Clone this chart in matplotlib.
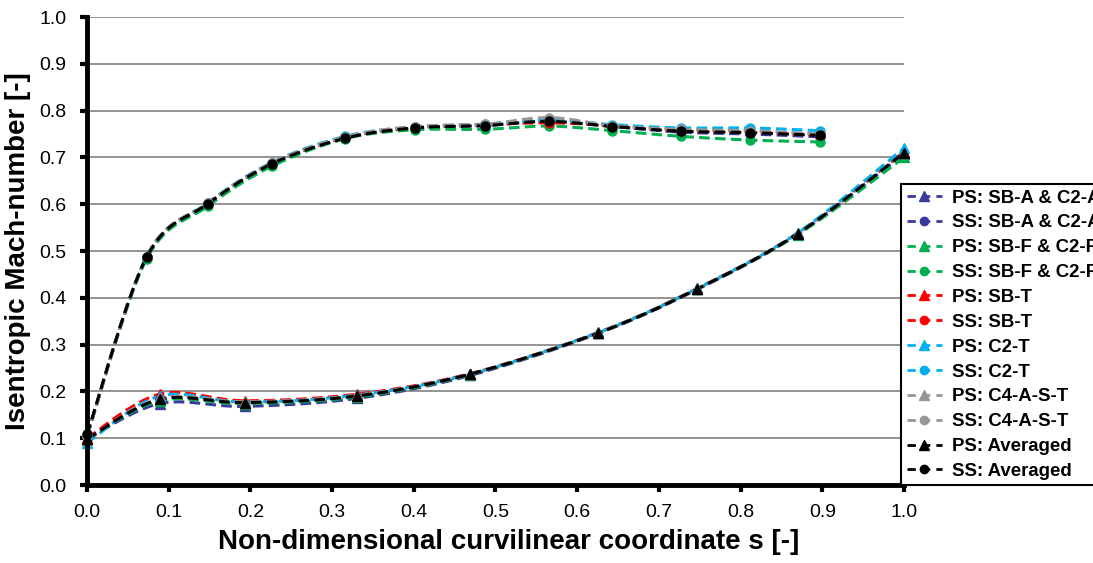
import numpy as np
import matplotlib
matplotlib.use("Agg")
import matplotlib.pyplot as plt
from matplotlib.lines import Line2D

plt.rcParams["font.family"] = ["Liberation Sans", "DejaVu Sans"]

# Suction side (SS) stations and Mach numbers
s_ss = [0.0, 0.073, 0.148, 0.226, 0.316, 0.401, 0.487, 0.565, 0.643, 0.727, 0.811, 0.897]
ss_sba = [0.105, 0.487, 0.601, 0.686, 0.742, 0.763, 0.768, 0.777, 0.766, 0.754, 0.750, 0.744]
ss_sbf = [0.105, 0.483, 0.596, 0.681, 0.740, 0.759, 0.760, 0.767, 0.757, 0.745, 0.737, 0.733]
ss_sbt = [0.105, 0.488, 0.602, 0.687, 0.743, 0.764, 0.770, 0.774, 0.768, 0.757, 0.755, 0.748]
ss_c2t = [0.105, 0.488, 0.603, 0.689, 0.745, 0.765, 0.771, 0.780, 0.770, 0.763, 0.763, 0.757]
ss_c4 = [0.105, 0.488, 0.602, 0.688, 0.744, 0.766, 0.771, 0.785, 0.768, 0.760, 0.757, 0.750]
ss_avg = [0.108, 0.487, 0.601, 0.686, 0.741, 0.763, 0.768, 0.777, 0.766, 0.756, 0.753, 0.747]

# Pressure side (PS) stations and Mach numbers
s_ps = [0.0, 0.089, 0.193, 0.330, 0.469, 0.626, 0.747, 0.870, 1.0]
ps_sba = [0.098, 0.174, 0.168, 0.185, 0.234, 0.324, 0.418, 0.536, 0.708]
ps_sbf = [0.098, 0.180, 0.174, 0.188, 0.236, 0.325, 0.419, 0.535, 0.700]
ps_sbt = [0.100, 0.194, 0.180, 0.194, 0.238, 0.326, 0.420, 0.538, 0.712]
ps_c2t = [0.090, 0.190, 0.177, 0.192, 0.237, 0.326, 0.420, 0.539, 0.720]
ps_c4 = [0.097, 0.185, 0.178, 0.191, 0.237, 0.325, 0.419, 0.537, 0.710]
ps_avg = [0.098, 0.183, 0.176, 0.190, 0.237, 0.325, 0.419, 0.537, 0.710]

labels = ["SB-A & C2-A", "SB-F & C2-F", "SB-T", "C2-T", "C4-A-S-T", "Averaged"]
colors = ["#3a3a9e", "#00b050", "#ff0000", "#00b0f0", "#969696", "#000000"]
ps_sets = [ps_sba, ps_sbf, ps_sbt, ps_c2t, ps_c4, ps_avg]
ss_sets = [ss_sba, ss_sbf, ss_sbt, ss_c2t, ss_c4, ss_avg]

xticks = np.round(np.arange(0, 1.01, 0.1), 1)
yticks = np.round(np.arange(0, 1.01, 0.1), 1)


def smooth(x, y, n=24):
    """Cubic Bezier smoothing through the points (Catmull-Rom style)."""
    pts = np.column_stack([x, y]).astype(float)
    P = np.vstack([pts[0], pts, pts[-1]])
    out = []
    t = np.linspace(0, 1, n)[:, None]
    for i in range(1, len(P) - 2):
        p0, p1, p2, p3 = P[i - 1], P[i], P[i + 1], P[i + 2]
        c1 = p1 + (p2 - p0) / 6.0
        c2 = p2 - (p3 - p1) / 6.0
        seg = ((1 - t) ** 3) * p1 + 3 * ((1 - t) ** 2) * t * c1 \
            + 3 * (1 - t) * t ** 2 * c2 + t ** 3 * p2
        out.append(seg if i == 1 else seg[1:])
    c = np.vstack(out)
    return c[:, 0], c[:, 1]


fig = plt.figure(figsize=(10.93, 5.63), dpi=100)
ax = fig.add_axes([87 / 1093, 1 - 485 / 563, (904 - 87) / 1093, (485 - 17) / 563])

lw = 2.2
dash = (3.5, 1.7)
handles = []
for lab, col, ps, ss in zip(labels, colors, ps_sets, ss_sets):
    for xs, ys, mk, ms in ((s_ps, ps, "^", 7.5), (s_ss, ss, "o", 6.5)):
        cx, cy = smooth(xs, ys)
        ax.plot(cx, cy, color=col, lw=lw, ls=(0, dash), zorder=3, clip_on=False)
        ax.plot(xs, ys, ls="none", marker=mk, ms=ms, color=col, mec=col,
                zorder=4, clip_on=False)
    handles.append(Line2D([], [], color=col, lw=2, ls=(0, (3.0, 2.2)),
                          marker="^", ms=6.5, label="PS: " + lab))
    handles.append(Line2D([], [], color=col, lw=2, ls=(0, (3.0, 2.2)),
                          marker="o", ms=6, label="SS: " + lab))

ax.set_xlim(0, 1)
ax.set_ylim(0, 1)
ax.set_xticks(xticks)
ax.set_yticks(yticks)
ax.set_xticklabels([f"{v:.1f}" for v in xticks])
ax.set_yticklabels([f"{v:.1f}" for v in yticks])
ax.tick_params(axis="both", direction="out", length=5, width=3, labelsize=14,
               color="black")
ax.tick_params(axis="y", pad=10)
ax.tick_params(axis="x", pad=9)

ax.grid(axis="y", color="#8a8a8a", lw=1.3, zorder=0)
ax.set_axisbelow(True)
for side in ("top", "right"):
    ax.spines[side].set_visible(False)
for side in ("left", "bottom"):
    ax.spines[side].set_linewidth(3.5)
    ax.spines[side].set_zorder(5)

ax.set_xlabel("Non-dimensional curvilinear coordinate s [-]", fontsize=20,
              fontweight="bold")
ax.xaxis.set_label_coords((509 - 87) / 817, -0.095, transform=ax.transAxes)
ax.xaxis.label.set_va("top")
ax.set_ylabel("Isentropic Mach-number [-]", fontsize=20, fontweight="bold",
              labelpad=6)

leg = fig.legend(handles=handles, loc="upper left",
                 bbox_to_anchor=(901 / 1093, 1 - 184 / 563),
                 bbox_transform=fig.transFigure, frameon=True, fancybox=False,
                 edgecolor="black", framealpha=1, borderaxespad=0,
                 prop={"weight": "bold", "size": 13.4}, handlelength=1.9,
                 handletextpad=0.55, labelspacing=0.42, borderpad=0.3)
leg.get_frame().set_linewidth(1.5)

fig.savefig("out.png", dpi=100)
